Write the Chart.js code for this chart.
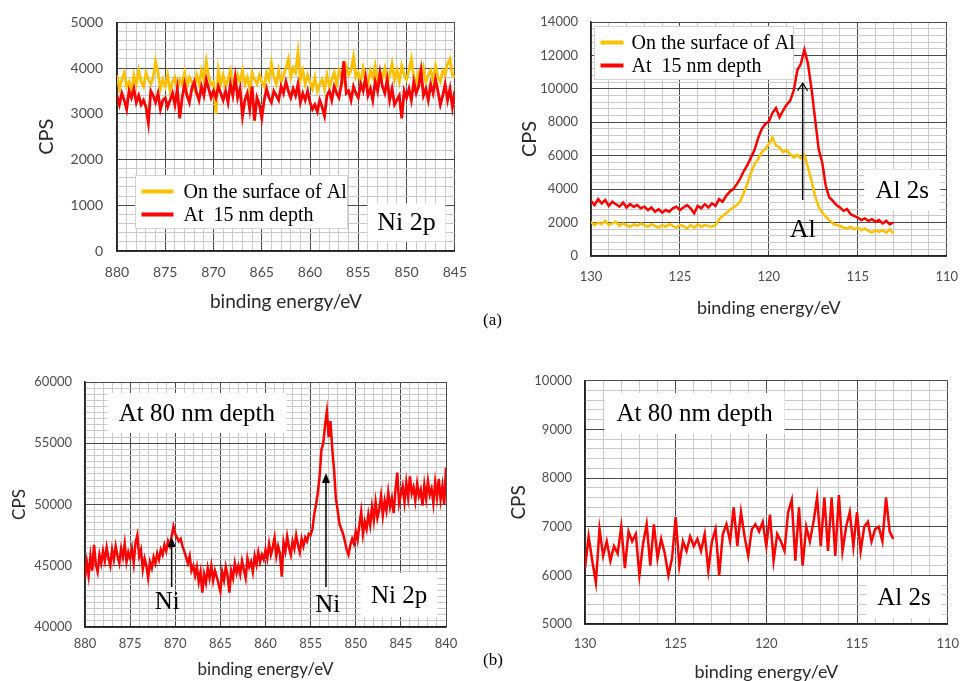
<!DOCTYPE html>
<html>
<head>
<meta charset="utf-8">
<script src="https://cdn.jsdelivr.net/npm/chart.js@4.4.1/dist/chart.umd.min.js"></script>
<style>
  html, body { margin: 0; padding: 0; background: #fff; }
  body { position: relative; width: 971px; height: 681px; overflow: hidden; }
  .panel { position: absolute; }
  .panel canvas { display: block; }
  .tag { position: absolute; font: 17px "Liberation Serif", serif; color: #000; z-index: 5; }
</style>
</head>
<body>
<div class="panel" style="left:0;top:0"><canvas id="ni2p-a" width="480" height="320"></canvas></div>
<div class="panel" style="left:490px;top:0"><canvas id="al2s-a" width="481" height="330"></canvas></div>
<div class="panel" style="left:0;top:340px"><canvas id="ni2p-b" width="480" height="350"></canvas></div>
<div class="panel" style="left:490px;top:360px"><canvas id="al2s-b" width="481" height="330"></canvas></div>
<div class="tag" style="left:483px;top:310px">(a)</div>
<div class="tag" style="left:483px;top:650px">(b)</div>

<script>
// series names
const seriesNames = ['On the surface of Al', 'At  15 nm depth'];

// Ni 2p, (a): 880 -> 845 eV, 0.25 eV steps
const ni2pStart = 880, ni2pStep = -0.25;
const ni2pSurface = [
  3850, 3550, 3750, 3900, 3600, 3700, 3500, 3850, 3650, 3950, 3700, 3600, 3900, 3750, 3650, 3800, 4150, 3900, 3550, 3750,
  3600, 3850, 3500, 3700, 3800, 3550, 3750, 3650, 3900, 3600, 3800, 3700, 3550, 3850, 3650, 3950, 3750, 4150, 3800, 3650,
  3700, 3000, 3950, 3650, 3850, 3600, 3750, 3950, 3700, 3600, 3850, 3700, 3950, 3650, 3800, 3550, 3900, 3750, 3650, 3850,
  3700, 3600, 3900, 3750, 4100, 3800, 3650, 3950, 3700, 3850, 4000, 4200, 3800, 4000, 3900, 4350, 3750, 3950, 3650, 3850,
  3700, 3550, 3800, 3500, 3650, 3750, 3550, 3850, 3600, 3750, 3900, 3650, 3950, 3800, 3700, 4050, 3850, 3950, 4250, 3800,
  3900, 3700, 4000, 3750, 3650, 3950, 3800, 4050, 3700, 3900, 3800, 4000, 3650, 3850, 4100, 3750, 3950, 3700, 4050, 3850,
  3750, 3950, 4200, 3800, 3650, 3900, 3750, 4000, 3700, 3850, 3950, 3750, 4050, 3800, 3700, 3950, 3850, 4100, 4200, 3850,
  3800
];
const ni2pDepth15 = [
  3400, 3200, 3450, 3300, 3100, 3500, 3350, 3550, 3250, 3400, 3200, 3300, 3150, 2800, 3500, 3400, 3250, 3450, 3100, 3300,
  3350, 3150, 3300, 3450, 3200, 3550, 2900, 3350, 3650, 3400, 3250, 3550, 3700, 3450, 3300, 3600, 3400, 3750, 3550, 3350,
  3500, 3350, 3600, 3450, 3300, 3500, 3250, 3650, 3400, 3800, 3350, 3550, 2950, 3300, 3450, 3100, 3600, 2850, 3350, 3200,
  2900, 3300, 3550, 3350, 3250, 3500, 3400, 3300, 3600, 3450, 3700, 3500, 3350, 3550, 3400, 3650, 3250, 3450, 3300, 3500,
  3250, 3100, 3200, 3050, 3300, 3150, 2950, 3400, 3500, 3300, 3600, 3450, 3350, 3650, 4150, 3450, 3500, 3300, 3600, 3450,
  3350, 3650, 3500, 3800, 3400, 3550, 3300, 3700, 3500, 3900, 3600, 3450, 3750, 3300, 3550, 3200, 3300, 3400, 2900, 3500,
  3350, 3550, 3300, 3700, 3450, 3600, 3950, 3400, 3550, 3300, 3650, 3450, 3750, 3500, 3200, 3400, 3650, 3300, 3550, 3150,
  3500
];

// Al 2s, (a): 130 -> 113 eV, 0.2 eV steps
const al2sStart = 130, al2sStep = -0.2;
const al2sSurface = [
  2050, 1850, 2000, 1900, 2100, 1850, 1950, 2050, 1800, 1950,
  1850, 1750, 1900, 1800, 1950, 1850, 1750, 1900, 1800, 1700,
  1850, 1750, 1900, 1800, 1700, 1850, 1800, 1650, 1850, 1700,
  1900, 1750, 1850, 1800, 1750, 1850, 2200, 2400, 2550, 2750,
  2900, 3050, 3300, 3800, 4350, 5000, 5500, 5800, 6200, 6400,
  6700, 7100, 6600, 6500, 6200, 6350, 6100, 5900, 6050, 5850,
  6050, 5300, 4500, 3600, 2950, 2600, 2350, 2150, 1950, 1850,
  1800, 1700, 1650, 1750, 1600, 1700, 1550, 1650, 1500, 1400,
  1550, 1450, 1550, 1400, 1600, 1350
];
const al2sDepth15 = [
  3300, 3050, 3400, 3150, 3350, 3000, 3250, 3100, 2950, 3200,
  2900, 3100, 2950, 3050, 2850, 2950, 2750, 2900, 2650, 2800,
  2600, 2750, 2650, 2850, 2950, 2750, 2900, 3050, 2850, 2550,
  3000, 2850, 3100, 2900, 3150, 3000, 3400, 3250, 3600, 3850,
  4000, 4300, 4650, 5100, 5450, 5900, 6350, 7050, 7600, 7900,
  8050, 8550, 8850, 8300, 8700, 9050, 9300, 9900, 11100, 11500,
  12350, 11500, 10000, 8200, 6400, 5600, 4200, 3500, 3300, 3050,
  2900, 2700, 2800, 2500, 2400, 2300, 2150, 2250, 2100, 2200,
  2050, 2150, 1950, 2100, 1900, 2000
];

// Ni 2p, (b) 80 nm: 880 -> 840 eV, 0.2 eV steps
const ni2pDeepStart = 880, ni2pDeepStep = -0.2;
const ni2pDepth80 = [
  44000, 45300, 44200, 45800, 44600, 46700, 45100, 44500, 45900, 45200, 46200, 45400, 46500, 45600, 45000, 46300, 45500, 46600, 45800, 45200, 46400, 45700, 46800, 45300, 46100,
  45600, 46400, 45200, 46900, 47500, 45800, 46300, 44700, 45600, 45000, 44000, 45300, 44800, 45700, 45200, 46000, 45500, 46300, 45900, 46700, 46200, 47000, 46600, 47400, 48200,
  47600, 47300, 47000, 47200, 46600, 46200, 45700, 45200, 45800, 44600, 45000, 44200, 44900, 43700, 44500, 42800, 44300, 43600, 44800, 44000, 45000, 43800, 44600, 44100, 43500,
  42900, 44500, 43800, 44900, 44200, 42800, 44600, 44000, 45200, 44400, 45000, 44300, 45400, 44700, 44000, 45600, 44900, 45300, 44500, 45800, 45100, 46100, 45300, 45900, 45500,
  46300, 45600, 46800, 45900, 46500, 47300, 45800, 46600, 46000, 44100, 46900, 46200, 47400, 46500, 45900, 47000, 46400, 47500, 46700, 46100, 47200, 46600, 47300, 47000, 47600,
  47500, 48000, 49200, 50000, 51000, 52300, 54500, 55000, 56500, 57600, 55500, 56800, 54500, 52800, 50500, 49500, 48400, 48000, 47600, 47000, 46300, 45900, 46700, 47200, 46800,
  47800, 47100, 48300, 49400, 47600, 48600, 48000, 49200, 48300, 49800, 48700, 50200, 48900, 49600, 50700, 49100, 50300, 49500, 51000, 49800, 50500, 49300, 51200, 52600, 50100,
  50800, 51500, 50200, 51800, 50600, 52300, 50900, 51400, 50300, 51700, 50700, 51200, 49900, 51600, 50500, 51900, 50800, 51300, 50100, 51800, 50600, 52100, 50400, 51500, 50000,
  53000
];

// Al 2s, (b) 80 nm: 130 -> 113 eV, 0.2 eV steps
const al2sDepth80 = [
  6150, 6800, 6300, 5850, 6950, 6400, 6700, 6300, 6600, 6450,
  7000, 6150, 6900, 6700, 6850, 6000, 6650, 7050, 6200, 7050,
  6350, 6750, 6450, 6000, 6350, 7200, 6200, 6700, 6500, 6800,
  6600, 6750, 6500, 6850, 6100, 6700, 6950, 6000, 6850, 7050,
  6700, 7400, 6600, 7300, 6800, 6400, 6950, 7050, 6900, 7100,
  6600, 7250, 6300, 6850, 6700, 6500, 7300, 7550, 6300, 7400,
  6200, 7000, 6700, 7100, 7600, 6600, 7600, 6500, 7600, 6400,
  7650, 6500, 7000, 7300, 6600, 7300, 6500, 7000, 7100, 6700,
  6950, 7000, 6700, 7600, 6900, 6750
];

const SANS = 'Lato';
const SERIF = '"Liberation Serif"';
const YELLOW = '#ffc000';
const RED = '#ff0000';
const MAJOR_GRID = '#4a4a4a';
const MINOR_GRID = '#c9c9c9';

function toPoints(start, step, values) {
  return values.map((v, i) => ({ x: +(start + i * step).toFixed(2), y: v }));
}

function drawArrow(ctx, px, y0, y1, head) {
  ctx.strokeStyle = '#000';
  ctx.fillStyle = '#000';
  ctx.lineWidth = 1.5;
  ctx.beginPath();
  ctx.moveTo(px, y0);
  ctx.lineTo(px, head === 'filled' ? y1 + 6 : y1);
  ctx.stroke();
  ctx.beginPath();
  if (head === 'filled') {
    ctx.moveTo(px, y1);
    ctx.lineTo(px - 4, y1 + 10);
    ctx.lineTo(px + 4, y1 + 10);
    ctx.closePath();
    ctx.fill();
  } else {
    ctx.lineWidth = 1.2;
    ctx.moveTo(px - 5, y1 + 8);
    ctx.lineTo(px, y1);
    ctx.lineTo(px + 5, y1 + 8);
    ctx.stroke();
  }
}

// boxes, arrows, peak labels and the in-plot legend, placed in data coordinates
const notesPlugin = {
  id: 'notes',
  afterDatasetsDraw(chart, args, opts) {
    const { ctx, scales: { x, y } } = chart;
    ctx.save();
    ctx.textAlign = 'center';
    ctx.textBaseline = 'middle';

    (opts.arrows || []).forEach(a => {
      drawArrow(ctx, x.getPixelForValue(a.x), y.getPixelForValue(a.from), y.getPixelForValue(a.to), a.head);
    });

    (opts.boxes || []).forEach(b => {
      const cx = x.getPixelForValue(b.x);
      const cy = y.getPixelForValue(b.y);
      ctx.fillStyle = '#fff';
      ctx.fillRect(cx - b.width / 2, cy - b.height / 2, b.width, b.height);
      ctx.fillStyle = '#000';
      ctx.font = `${b.size}px ${SERIF}`;
      ctx.fillText(b.text, cx, cy + 1);
    });

    (opts.labels || []).forEach(l => {
      ctx.fillStyle = '#000';
      ctx.font = `${l.size}px ${SERIF}`;
      ctx.fillText(l.text, x.getPixelForValue(l.x), y.getPixelForValue(l.y));
    });

    const lg = opts.legend;
    if (lg) {
      const lx = Math.round(x.getPixelForValue(lg.x)) + 0.5;
      const ly = Math.round(y.getPixelForValue(lg.y)) + 0.5;
      ctx.fillStyle = '#fff';
      ctx.fillRect(lx, ly, lg.width, lg.height);
      ctx.strokeStyle = '#d4d4d4';
      ctx.lineWidth = 1;
      ctx.strokeRect(lx, ly, lg.width, lg.height);
      ctx.textAlign = 'left';
      ctx.font = `${lg.size}px ${SERIF}`;
      lg.items.forEach((item, i) => {
        const rowY = ly + 16 + i * 23;
        ctx.strokeStyle = item.color;
        ctx.lineWidth = 4;
        ctx.beginPath();
        ctx.moveTo(lx + 6, rowY);
        ctx.lineTo(lx + 6 + lg.swatch, rowY);
        ctx.stroke();
        ctx.fillStyle = '#000';
        ctx.fillText(item.label, lx + lg.textOffset, rowY + 1);
      });
    }
    ctx.restore();
  }
};

function spectrumChart(id, o) {
  const canvas = document.getElementById(id);
  return new Chart(canvas.getContext('2d'), {
    type: 'line',
    data: {
      datasets: o.series.map(s => ({
        data: s.points,
        borderColor: s.color,
        borderWidth: o.lineWidth,
        pointRadius: 0,
        tension: 0,
        order: s.order
      }))
    },
    options: {
      responsive: false,
      animation: false,
      events: [],
      layout: { padding: { left: 0, top: o.padTop, right: o.padRight, bottom: 0 } },
      plugins: {
        legend: { display: false },
        tooltip: { enabled: false },
        notes: o.notes
      },
      scales: {
        x: {
          type: 'linear',
          reverse: true,
          min: o.xMin,
          max: o.xMax,
          afterFit: (scale) => { scale.height = o.xAxisHeight; },
          ticks: {
            stepSize: 1,
            autoSkip: false,
            maxRotation: 0,
            maxTicksLimit: 1000,
            padding: o.xTickPad,
            color: '#4d4d4d',
            font: { family: SANS, size: o.tickSize },
            callback: (v) => (v % 5 === 0 ? String(v) : '')
          },
          grid: {
            drawTicks: false,
            lineWidth: 1,
            color: (c) => (c.tick && c.tick.value % 5 === 0 ? MAJOR_GRID : MINOR_GRID)
          },
          border: { color: '#222', width: 1.5 },
          title: {
            display: true,
            text: 'binding energy/eV',
            color: '#2a2a2a',
            font: { family: SANS, size: o.xTitleSize },
            padding: { top: 0, bottom: o.xTitlePad }
          }
        },
        y: {
          type: 'linear',
          min: o.yMin,
          max: o.yMax,
          afterFit: (scale) => { scale.width = o.yAxisWidth; },
          ticks: {
            stepSize: o.yMinor,
            autoSkip: false,
            maxTicksLimit: 1000,
            padding: o.yTickPad,
            color: '#4d4d4d',
            font: { family: SANS, size: o.tickSize },
            callback: (v) => (v % o.yMajor === 0 ? String(v) : '')
          },
          grid: {
            drawTicks: false,
            lineWidth: 1,
            color: (c) => (c.tick && c.tick.value % o.yMajor === 0 ? MAJOR_GRID : MINOR_GRID)
          },
          border: { color: '#222', width: 1.5 },
          title: {
            display: true,
            text: 'CPS',
            color: '#2a2a2a',
            font: { family: SANS, size: o.yTitleSize },
            padding: { top: o.yTitlePad, bottom: 0 }
          }
        }
      }
    },
    plugins: [notesPlugin]
  });
}

function init() {
  const legendItems = [
    { label: seriesNames[0], color: YELLOW },
    { label: seriesNames[1], color: RED }
  ];

  spectrumChart('ni2p-a', {
    series: [
      { points: toPoints(ni2pStart, ni2pStep, ni2pSurface), color: YELLOW, order: 1 },
      { points: toPoints(ni2pStart, ni2pStep, ni2pDepth15), color: RED, order: 0 }
    ],
    xMin: 845, xMax: 880, yMin: 0, yMax: 5000, yMinor: 200, yMajor: 1000,
    padTop: 19, padRight: 21, yAxisWidth: 117, xAxisHeight: 69, lineWidth: 2.8,
    tickSize: 14, xTickPad: 13, yTickPad: 14,
    xTitleSize: 19, xTitlePad: 7, yTitleSize: 20, yTitlePad: 35,
    notes: {
      legend: { x: 878.16, y: 1660, width: 212, height: 53, swatch: 32, textOffset: 48, size: 20, items: legendItems },
      boxes: [{ x: 850, y: 625, text: 'Ni 2p', size: 26, width: 78, height: 38 }]
    }
  });

  spectrumChart('al2s-a', {
    series: [
      { points: toPoints(al2sStart, al2sStep, al2sSurface), color: YELLOW, order: 1 },
      { points: toPoints(al2sStart, al2sStep, al2sDepth15), color: RED, order: 0 }
    ],
    xMin: 110, xMax: 130, yMin: 0, yMax: 14000, yMinor: 400, yMajor: 2000,
    padTop: 22, padRight: 19, yAxisWidth: 101, xAxisHeight: 74, lineWidth: 2.5,
    tickSize: 13, xTickPad: 13, yTickPad: 13,
    xTitleSize: 18, xTitlePad: 11, yTitleSize: 20, yTitlePad: 28,
    notes: {
      legend: { x: 129.83, y: 13764, width: 199, height: 53, swatch: 23, textOffset: 37, size: 20, items: legendItems },
      boxes: [{ x: 112.5, y: 3950, text: 'Al 2s', size: 25, width: 76, height: 41 }],
      arrows: [{ x: 118.1, from: 3350, to: 10350, head: 'open' }],
      labels: [{ x: 118.1, y: 1555, text: 'Al', size: 26 }]
    }
  });

  spectrumChart('ni2p-b', {
    series: [
      { points: toPoints(ni2pDeepStart, ni2pDeepStep, ni2pDepth80), color: RED, order: 0 }
    ],
    xMin: 840, xMax: 880, yMin: 40000, yMax: 60000, yMinor: 500, yMajor: 5000,
    padTop: 42, padRight: 34, yAxisWidth: 85, xAxisHeight: 63, lineWidth: 2.5,
    tickSize: 13, xTickPad: 9, yTickPad: 13,
    xTitleSize: 17, xTitlePad: 10, yTitleSize: 17, yTitlePad: 9,
    notes: {
      boxes: [
        { x: 867.6, y: 57470, text: 'At 80 nm depth', size: 25, width: 179, height: 40 },
        { x: 845.2, y: 42610, text: 'Ni 2p', size: 25, width: 77, height: 44 }
      ],
      arrows: [
        { x: 870.4, from: 43270, to: 47350, head: 'filled' },
        { x: 853.3, from: 43270, to: 52570, head: 'filled' }
      ],
      labels: [
        { x: 870.9, y: 42040, text: 'Ni', size: 25 },
        { x: 853.1, y: 41800, text: 'Ni', size: 25 }
      ]
    }
  });

  spectrumChart('al2s-b', {
    series: [
      { points: toPoints(al2sStart, al2sStep, al2sDepth80), color: RED, order: 0 }
    ],
    xMin: 110, xMax: 130, yMin: 5000, yMax: 10000, yMinor: 200, yMajor: 1000,
    padTop: 19, padRight: 12, yAxisWidth: 95, xAxisHeight: 66, lineWidth: 2.5,
    tickSize: 13, xTickPad: 12, yTickPad: 13,
    xTitleSize: 18, xTitlePad: 7, yTitleSize: 19, yTitlePad: 17,
    notes: {
      boxes: [
        { x: 123.96, y: 9327, text: 'At 80 nm depth', size: 25, width: 180, height: 41 },
        { x: 112.41, y: 5551, text: 'Al 2s', size: 25, width: 75, height: 42 }
      ]
    }
  });
}

if (document.readyState === 'loading') {
  document.addEventListener('DOMContentLoaded', init);
} else {
  init();
}
</script>
</body>
</html>
